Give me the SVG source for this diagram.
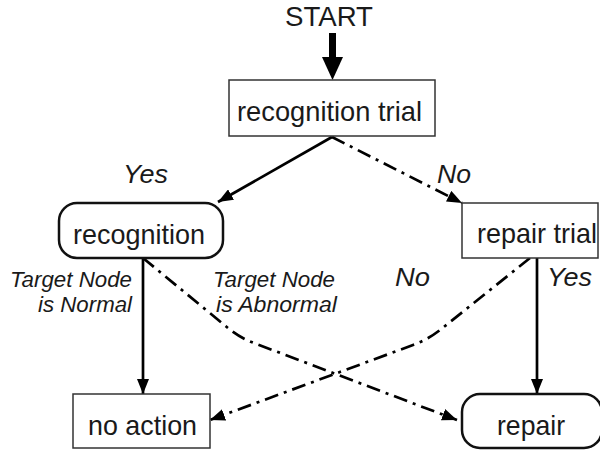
<svg xmlns="http://www.w3.org/2000/svg" width="600" height="450" viewBox="0 0 600 450">
<defs>
<style>
.box{fill:#fff;stroke:#333;stroke-width:1.5}
.rbox{fill:#fff;stroke:#111;stroke-width:2.5}
.t{font-family:"Liberation Sans",Arial,Helvetica,sans-serif;font-size:28px;fill:#1a1a1a}
.i{font-family:"Liberation Sans",Arial,Helvetica,sans-serif;font-size:22px;font-style:italic;fill:#1a1a1a}
.y{font-size:26px}
.c{fill:none;stroke:#000;stroke-width:2.7}
.d{stroke-dasharray:14 6 3 6}
</style>
<marker id="ah" viewBox="0 0 15 12" markerUnits="userSpaceOnUse" markerWidth="15" markerHeight="12" refX="15" refY="6" orient="auto">
<path d="M0,0 L15,6 L0,12 z" fill="#000"/>
</marker>
</defs>
<text class="t" x="285" y="26" textLength="88" lengthAdjust="spacingAndGlyphs">START</text>
<g id="connectors">
<rect x="329" y="33" width="7" height="25" fill="#000"/>
<polygon points="322,57 343,57 332.5,80" fill="#000"/>
<line class="c" x1="332" y1="137" x2="218" y2="202" marker-end="url(#ah)"/>
<line class="c d" x1="332" y1="137" x2="462" y2="203" marker-end="url(#ah)"/>
<line class="c" x1="143" y1="258" x2="143" y2="394" marker-end="url(#ah)"/>
<line class="c" x1="537" y1="258" x2="537" y2="394" marker-end="url(#ah)"/>
<path class="c d" d="M143,258 L228,328 Q240,338 254,343 L457,420" marker-end="url(#ah)"/>
<path class="c d" d="M530,258 L440,330 Q427,340 413,345 L210,420" marker-end="url(#ah)"/>
</g>
<g id="n_recog_trial">
<rect class="box" x="229" y="80" width="206" height="56"/>
<text class="t" x="237" y="121" textLength="185" lengthAdjust="spacingAndGlyphs">recognition trial</text>
</g>
<g id="n_recognition">
<rect class="rbox" x="59" y="203" width="164" height="55" rx="18"/>
<text class="t" x="73" y="244" textLength="132" lengthAdjust="spacingAndGlyphs">recognition</text>
</g>
<g id="n_repair_trial">
<rect class="box" x="462" y="203" width="136" height="55"/>
<text class="t" x="477" y="243" textLength="120" lengthAdjust="spacingAndGlyphs">repair trial</text>
</g>
<g id="n_no_action">
<rect class="box" x="73" y="394" width="137" height="54"/>
<text class="t" x="88" y="435" textLength="109" lengthAdjust="spacingAndGlyphs">no action</text>
</g>
<g id="n_repair">
<rect class="rbox" x="462" y="394" width="140" height="54" rx="18"/>
<text class="t" x="497" y="435" textLength="68" lengthAdjust="spacingAndGlyphs">repair</text>
</g>
<g id="labels">
<text class="i y" x="123" y="183" textLength="45" lengthAdjust="spacingAndGlyphs">Yes</text>
<text class="i y" x="437" y="183" textLength="34" lengthAdjust="spacingAndGlyphs">No</text>
<text class="i" x="10" y="287" textLength="122" lengthAdjust="spacingAndGlyphs">Target Node</text>
<text class="i" x="38" y="312" textLength="94" lengthAdjust="spacingAndGlyphs">is Normal</text>
<text class="i" x="213" y="287" textLength="122" lengthAdjust="spacingAndGlyphs">Target Node</text>
<text class="i" x="216" y="312" textLength="121" lengthAdjust="spacingAndGlyphs">is Abnormal</text>
<text class="i y" x="395" y="286" textLength="35" lengthAdjust="spacingAndGlyphs">No</text>
<text class="i y" x="547" y="286" textLength="45" lengthAdjust="spacingAndGlyphs">Yes</text>
</g>
</svg>
